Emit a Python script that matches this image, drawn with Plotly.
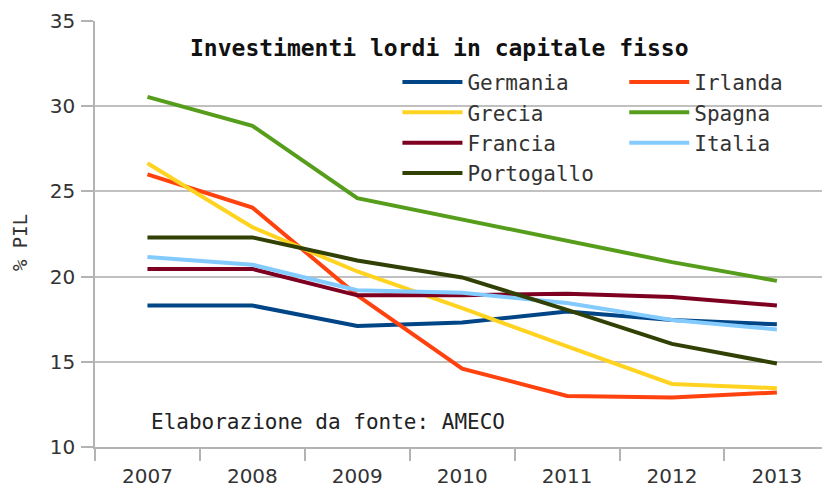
import plotly.graph_objects as go

# years on the category axis
years = ["2007", "2008", "2009", "2010", "2011", "2012", "2013"]

# gross fixed capital formation, % of GDP
germania = [18.3, 18.3, 17.1, 17.3, 17.95, 17.45, 17.2]
irlanda = [26.0, 24.05, 18.9, 14.6, 13.0, 12.9, 13.2]
grecia = [26.65, 22.9, 20.3, 18.15, 15.9, 13.7, 13.45]
spagna = [30.55, 28.85, 24.6, 23.35, 22.1, 20.85, 19.75]
francia = [20.45, 20.45, 18.9, 18.9, 19.0, 18.8, 18.3]
italia = [21.15, 20.7, 19.2, 19.05, 18.45, 17.45, 16.9]
portogallo = [22.3, 22.3, 20.95, 19.95, 18.05, 16.05, 14.9]

y_ticks = [10, 15, 20, 25, 30, 35]

series = [
    ("Germania", germania, "#004586", "legend"),
    ("Irlanda", irlanda, "#ff420e", "legend2"),
    ("Grecia", grecia, "#ffd320", "legend"),
    ("Spagna", spagna, "#579d1c", "legend2"),
    ("Francia", francia, "#7e0021", "legend"),
    ("Italia", italia, "#83caff", "legend2"),
    ("Portogallo", portogallo, "#314004", "legend"),
]

mono = "DejaVu Sans Mono"

fig = go.Figure()
for name, vals, color, leg in series:
    fig.add_trace(
        go.Scatter(
            x=years, y=vals, name=name, mode="lines",
            line=dict(color=color, width=4),
            legend=leg,
        )
    )

legend_style = dict(
    font=dict(family=mono, size=21, color="#333333"),
    bgcolor="rgba(0,0,0,0)",
    itemwidth=60,
    tracegroupgap=0,
    yanchor="top",
    xanchor="left",
)
fig.update_layout(
    width=822, height=491,
    margin=dict(l=95, r=0, t=21, b=44, autoexpand=False),
    plot_bgcolor="white",
    paper_bgcolor="white",
    legend=dict(x=0.416, y=0.904, **legend_style),
    legend2=dict(x=0.728, y=0.904, **legend_style),
)

fig.update_xaxes(
    type="category",
    range=[-0.5, 6.43],
    tickson="boundaries",
    ticks="outside", ticklen=12, tickcolor="#b3b3b3", tickwidth=1.5,
    showline=True, linecolor="#b3b3b3", linewidth=1.5,
    showgrid=False,
    ticklabelstandoff=10,
    tickfont=dict(family="DejaVu Sans", size=20, color="#333333"),
)
fig.update_yaxes(
    range=[10, 35],
    tickvals=y_ticks,
    ticks="outside", ticklen=12, tickcolor="#b3b3b3", tickwidth=1.5,
    showline=True, linecolor="#b3b3b3", linewidth=1.5,
    gridcolor="#c0c0c0", gridwidth=1.5,
    zeroline=False,
    ticklabelstandoff=2,
    tickfont=dict(family="DejaVu Sans", size=20, color="#333333"),
)

fig.add_annotation(
    xref="paper", yref="paper", x=0.474, y=0.937,
    xanchor="center", yanchor="middle", showarrow=False,
    text="<b>Investimenti lordi in capitale fisso</b>",
    font=dict(family=mono, size=23, color="#111111"),
)
fig.add_annotation(
    xref="paper", yref="paper", x=0.32, y=0.059,
    xanchor="center", yanchor="middle", showarrow=False,
    text="Elaborazione da fonte: AMECO",
    font=dict(family=mono, size=21, color="#222222"),
)
fig.add_annotation(
    xref="paper", yref="paper", x=-0.103, y=0.479,
    xanchor="center", yanchor="middle", showarrow=False,
    text="% PIL", textangle=-90,
    font=dict(family=mono, size=19, color="#333333"),
)

# drop the default page margin so the figure sits at the window corner
fig.write_html(
    "out.html",
    config={"displayModeBar": False},
    post_script="document.body.style.margin = '0';",
)
